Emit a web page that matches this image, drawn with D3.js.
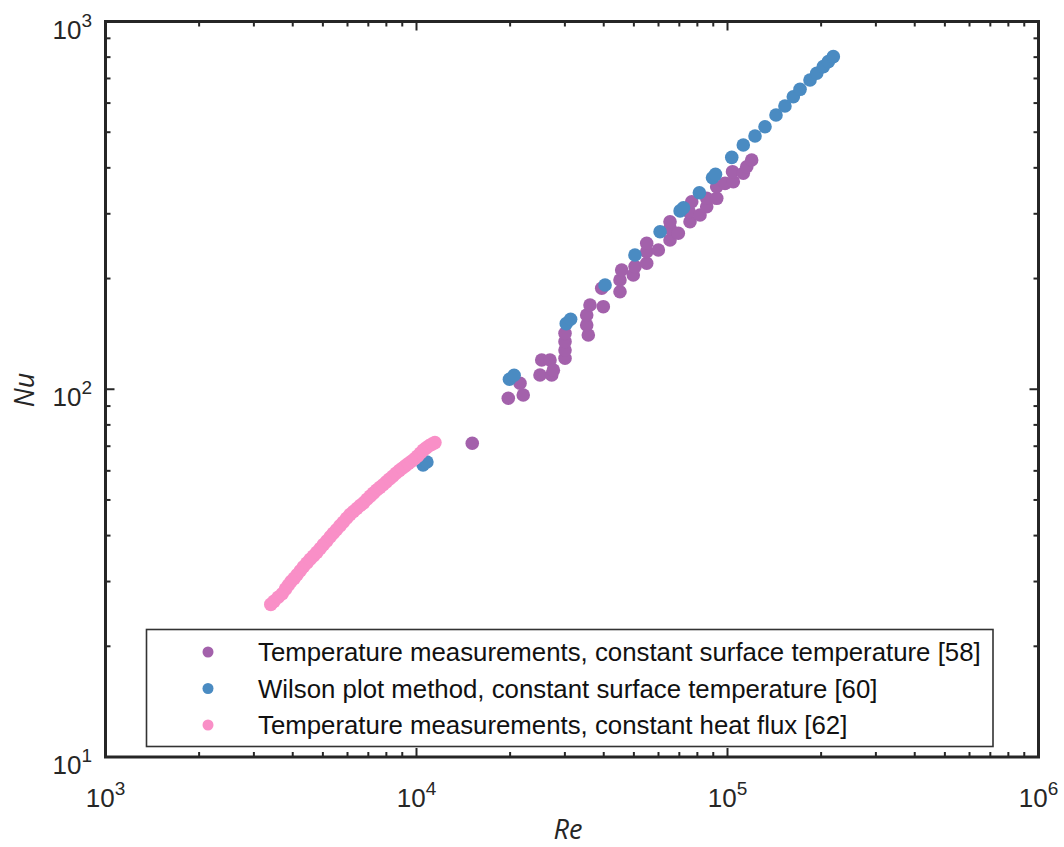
<!DOCTYPE html>
<html>
<head>
<meta charset="utf-8">
<script src="https://cdn.jsdelivr.net/npm/d3@7"></script>
<style>
  html, body { margin: 0; padding: 0; background: #fff; }
  svg { display: block; }
</style>
</head>
<body>
<svg id="chart" width="1064" height="847"></svg>
<script>
// Re, Nu pairs for each data source
const tempSurface = [
  [15110,71.3],[19730,94.5],[22040,96.5],[21520,103.8],[24950,109.3],[27210,109.3],
  [25270,120.1],[26870,120.1],[27540,112.7],[30030,121.4],[30030,127.9],[30030,134.7],
  [30030,141.9],[35680,140.4],[35260,149.5],[35260,159.2],[36130,169.5],[39870,167.7],
  [39400,188.2],[45110,184.2],[45110,198.2],[45680,211.0],[49780,204.5],[50430,215.5],
  [54980,220.1],[54980,236.6],[54980,249.5],[59930,239.1],[65340,254.6],[65340,273.9],
  [65340,285.5],[69480,265.5],[75770,285.5],[75200,304],[81590,297.7],[76730,323.6],
  [85740,313.6],[85740,330.5],[92330,330.5],[92330,355.4],[98170,362.9],[104400,366.7],
  [103800,390.5],[112400,386.6],[115300,402.9],[119600,420.2]
];
const wilsonPlot = [
  [10500,62.3],[10800,63.4],[19900,106.5],[20600,109.2],[30300,150.8],[31300,155],
  [40400,192.1],[50400,231.8],[60700,268.2],[70400,305.5],[72200,311.5],[81200,342.3],
  [89500,376],[91500,384],[103200,427.2],[112400,461.6],[122600,488.3],[132000,517.5],
  [143200,556.8],[153000,589.3],[162800,624.5],[171100,654],[184200,693.5],[193600,723],
  [203300,753.9],[211000,777.8],[218900,802.4]
];
const tempHeatFlux = [
  [3400,26.0],[3480,26.5],[3590,27.2],[3700,27.8],[3790,28.6],[3870,29.3],[3950,30.0],
  [4040,30.6],[4130,31.3],[4230,32.1],[4330,32.9],[4440,33.7],[4550,34.5],[4660,35.2],
  [4780,36.0],[4900,36.9],[5020,37.8],[5150,38.7],[5280,39.7],[5400,40.6],[5530,41.5],
  [5670,42.5],[5810,43.5],[5960,44.6],[6110,45.6],[6270,46.5],[6430,47.4],[6590,48.3],
  [6760,49.1],[6930,50.2],[7100,51.2],[7270,52.2],[7450,53.2],[7630,54.1],[7810,55.0],
  [8000,56.0],[8190,57.0],[8390,58.0],[8590,59.1],[8800,60.1],[9000,61.0],[9210,61.9],
  [9420,62.8],[9640,63.7],[9860,64.7],[10080,65.8],[10300,67.1],[10520,68.3],[10750,69.3],
  [10980,70.2],[11220,70.9],[11460,71.6]
];
const seriesNames = [
  "Temperature measurements, constant surface temperature [58]",
  "Wilson plot method, constant surface temperature [60]",
  "Temperature measurements, constant heat flux [62]"
];
const seriesColors = ["#a361ab", "#4a8bc2", "#f98fc7"];
const xTickExps = [3, 4, 5, 6];
const yTickExps = [1, 2, 3];

const svg = d3.select("#chart");
const L = 105.5, R = 1038.5, T = 21.5, B = 757;
const x = d3.scaleLog().domain([1e3, 1e6]).range([L, R]);
const y = d3.scaleLog().domain([1e1, 1e3]).range([B, T]);
const axisColor = "#262626";

// minor + major tick positions
function logTicks(lo, hi) {
  const out = [];
  for (let e = lo; e < hi; e++) for (let m = 1; m <= 9; m++) out.push({v: m * Math.pow(10, e), major: m === 1});
  out.push({v: Math.pow(10, hi), major: true});
  return out;
}
const xt = logTicks(3, 6), yt = logTicks(1, 3);
const tg = svg.append("g").attr("stroke", axisColor).attr("stroke-width", 2);
xt.forEach(t => {
  const len = t.major ? 9 : 5, px = x(t.v);
  tg.append("line").attr("x1", px).attr("x2", px).attr("y1", B).attr("y2", B - len);
  tg.append("line").attr("x1", px).attr("x2", px).attr("y1", T).attr("y2", T + len);
});
yt.forEach(t => {
  const len = t.major ? 9 : 5, py = y(t.v);
  tg.append("line").attr("y1", py).attr("y2", py).attr("x1", L).attr("x2", L + len);
  tg.append("line").attr("y1", py).attr("y2", py).attr("x1", R).attr("x2", R - len);
});

// data points
const layers = [tempSurface, wilsonPlot, tempHeatFlux];
layers.forEach((data, i) => {
  svg.append("g").selectAll("circle").data(data).join("circle")
    .attr("cx", d => x(d[0])).attr("cy", d => y(d[1]))
    .attr("r", 6.8).attr("fill", seriesColors[i]);
});

// frame
svg.append("rect").attr("x", L).attr("y", T).attr("width", R - L).attr("height", B - T)
  .attr("fill", "none").attr("stroke", axisColor).attr("stroke-width", 3);

// tick labels
const fontTick = "'Liberation Sans', Arial, sans-serif";
function powerLabel(g, px, py, exp, anchor) {
  const t = g.append("text").attr("font-family", fontTick).attr("fill", axisColor)
    .attr("x", px).attr("y", py).attr("text-anchor", anchor);
  t.append("tspan").attr("font-size", 26).text("10");
  t.append("tspan").attr("font-size", 19).attr("dy", -12).text(exp);
}
const lg = svg.append("g");
xTickExps.forEach(e => powerLabel(lg, x(Math.pow(10, e)), 807, e, "middle"));
yTickExps.forEach(e => powerLabel(lg, 92, y(Math.pow(10, e)) + 17, e, "end"));

// axis titles
svg.append("text").attr("x", 568).attr("y", 839).attr("text-anchor", "middle")
  .attr("font-family", "'Open Sans', sans-serif").attr("font-style", "italic")
  .attr("font-size", 27).attr("fill", axisColor).text("Re");
svg.append("text").attr("transform", "translate(34,390) rotate(-90)").attr("text-anchor", "middle")
  .attr("font-family", "'Open Sans', sans-serif").attr("font-style", "italic")
  .attr("font-size", 27).attr("fill", axisColor).text("Nu");

// legend
const leg = svg.append("g");
leg.append("rect").attr("x", 146.5).attr("y", 629.5).attr("width", 846.5).attr("height", 117)
  .attr("fill", "#fff").attr("stroke", "#333").attr("stroke-width", 1.6);
seriesNames.forEach((name, i) => {
  const cy = 652 + i * 36.5;
  leg.append("circle").attr("cx", 208).attr("cy", cy).attr("r", 5.5).attr("fill", seriesColors[i]);
  leg.append("text").attr("x", 258).attr("y", cy + 9).attr("font-family", fontTick)
    .attr("font-size", 25.8).attr("fill", "#111").text(name);
});
</script>
</body>
</html>
